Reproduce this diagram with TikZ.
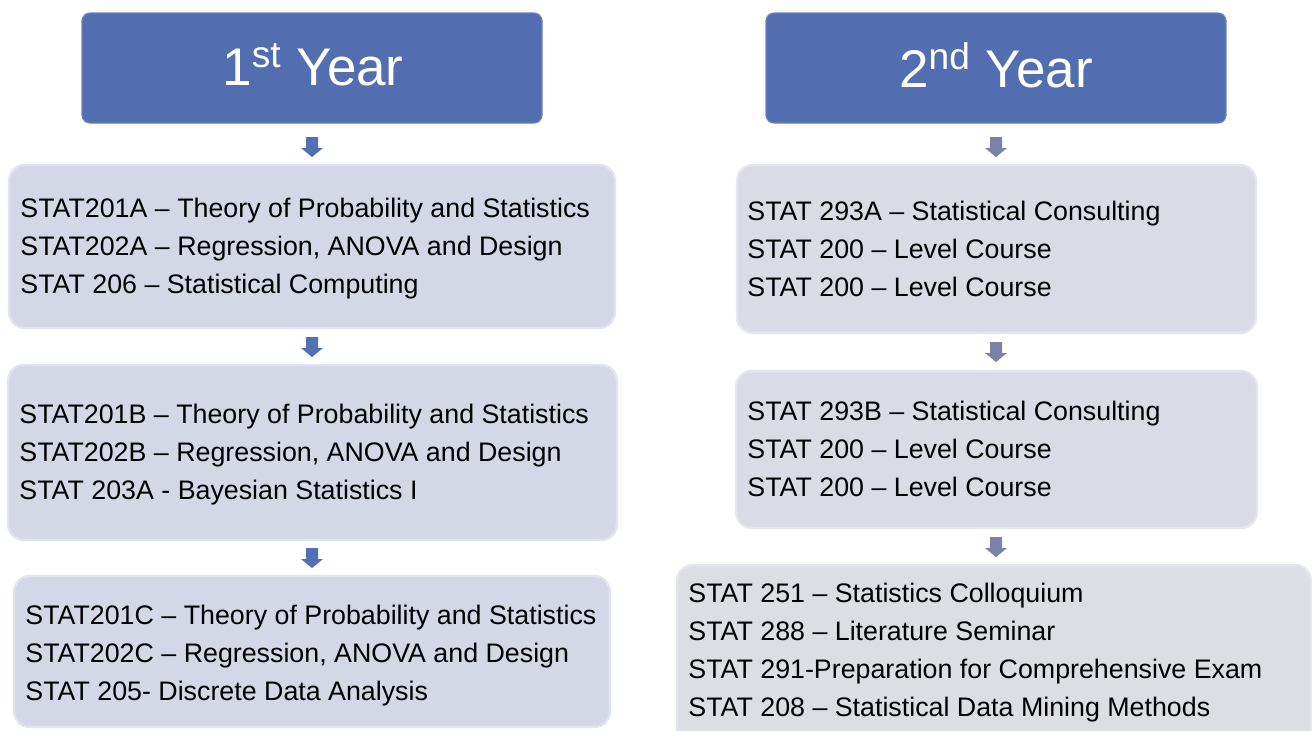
\documentclass[tikz,border=0pt]{standalone}
\usepackage{fontspec}
\setmainfont{Liberation Sans}
\usetikzlibrary{fit}
\definecolor{hdr}{RGB}{82,109,176}
\definecolor{lbox}{RGB}{212,216,230}
\definecolor{lborder}{RGB}{226,229,238}
\definecolor{rbox}{RGB}{218,219,228}
\definecolor{rborder}{RGB}{230,231,237}
\definecolor{rbox3}{RGB}{221,222,228}
\definecolor{larrow}{RGB}{84,112,180}
\definecolor{rarrow}{RGB}{124,129,166}
\tikzset{
  hdrbox/.style={fill=hdr, draw=hdr!85!white, line width=0.6pt, rounded corners=4pt, inner sep=0pt},
  lcourse/.style={fill=lbox, draw=lborder, line width=1.2pt, rounded corners=8pt, inner sep=0pt},
  rcourse/.style={fill=rbox, draw=rborder, line width=1.2pt, rounded corners=8pt, inner sep=0pt},
  rcourselast/.style={fill=rbox3, draw=rborder, line width=1.2pt, rounded corners=8pt, inner sep=0pt},
  hdrtext/.style={text=white, font=\fontsize{26.5}{32}\selectfont, inner sep=0pt},
  coursetext/.style={anchor=west, align=left, inner sep=0pt, font=\fontsize{13.4}{19}\selectfont, text=black},
  pics/blockarrow/.style={code={
    \fill[#1] (-6,-10) -- (6,-10) -- (6,1) -- (11,1) -- (0,10) -- (-11,1) -- (-6,1) -- cycle;
  }}
}
\begin{document}
\begin{tikzpicture}[x=0.5pt,y=-0.5pt]
\useasboundingbox (0,0) rectangle (1312,730);
\clip (0,0) rectangle (1312,730);
% headers
\node[hdrbox, fit={(82,13) (542,123)}] (H1) {};
\node[hdrtext] (H1t) at (313,65) {1\textsuperscript{st} Year};
\node[hdrbox, fit={(766,13) (1226,123)}] (H2) {};
\node[hdrtext] (H2t) at (996,65) {2\textsuperscript{nd} Year};
% left boxes
\node[lcourse, fit={(9,165) (615,328)}] (L1) {};
\node[coursetext] (L1t) at (20,249) {STAT201A – Theory of Probability and Statistics\\STAT202A – Regression, ANOVA and Design\\STAT 206 – Statistical Computing};
\node[lcourse, fit={(8,365) (617,540)}] (L2) {};
\node[coursetext] (L2t) at (19,455) {STAT201B – Theory of Probability and Statistics\\STAT202B – Regression, ANOVA and Design\\STAT 203A - Bayesian Statistics I};
\node[lcourse, fit={(14,576) (610,727)}] (L3) {};
\node[coursetext] (L3t) at (25,656) {STAT201C – Theory of Probability and Statistics\\STAT202C – Regression, ANOVA and Design\\STAT 205- Discrete Data Analysis};
% right boxes
\node[rcourse, fit={(737,165) (1256,333)}] (R1) {};
\node[coursetext] (R1t) at (747,249) {STAT 293A – Statistical Consulting\\STAT 200 – Level Course\\STAT 200 – Level Course};
\node[rcourse, fit={(736,371) (1257,528)}] (R2) {};
\node[coursetext] (R2t) at (747,449) {STAT 293B – Statistical Consulting\\STAT 200 – Level Course\\STAT 200 – Level Course};
\node[rcourselast, fit={(677,565) (1311,745)}] (R3) {};
\node[coursetext] (R3t) at (688,653) {STAT 251 – Statistics Colloquium\\STAT 288 – Literature Seminar\\STAT 291-Preparation for Comprehensive Exam\\STAT 208 – Statistical Data Mining Methods};
% arrows
\pic at (312,147) {blockarrow=larrow};
\pic at (312,347) {blockarrow=larrow};
\pic at (312,558) {blockarrow=larrow};
\pic at (996,147) {blockarrow=rarrow};
\pic at (996,352) {blockarrow=rarrow};
\pic at (996,547) {blockarrow=rarrow};
\end{tikzpicture}
\end{document}
